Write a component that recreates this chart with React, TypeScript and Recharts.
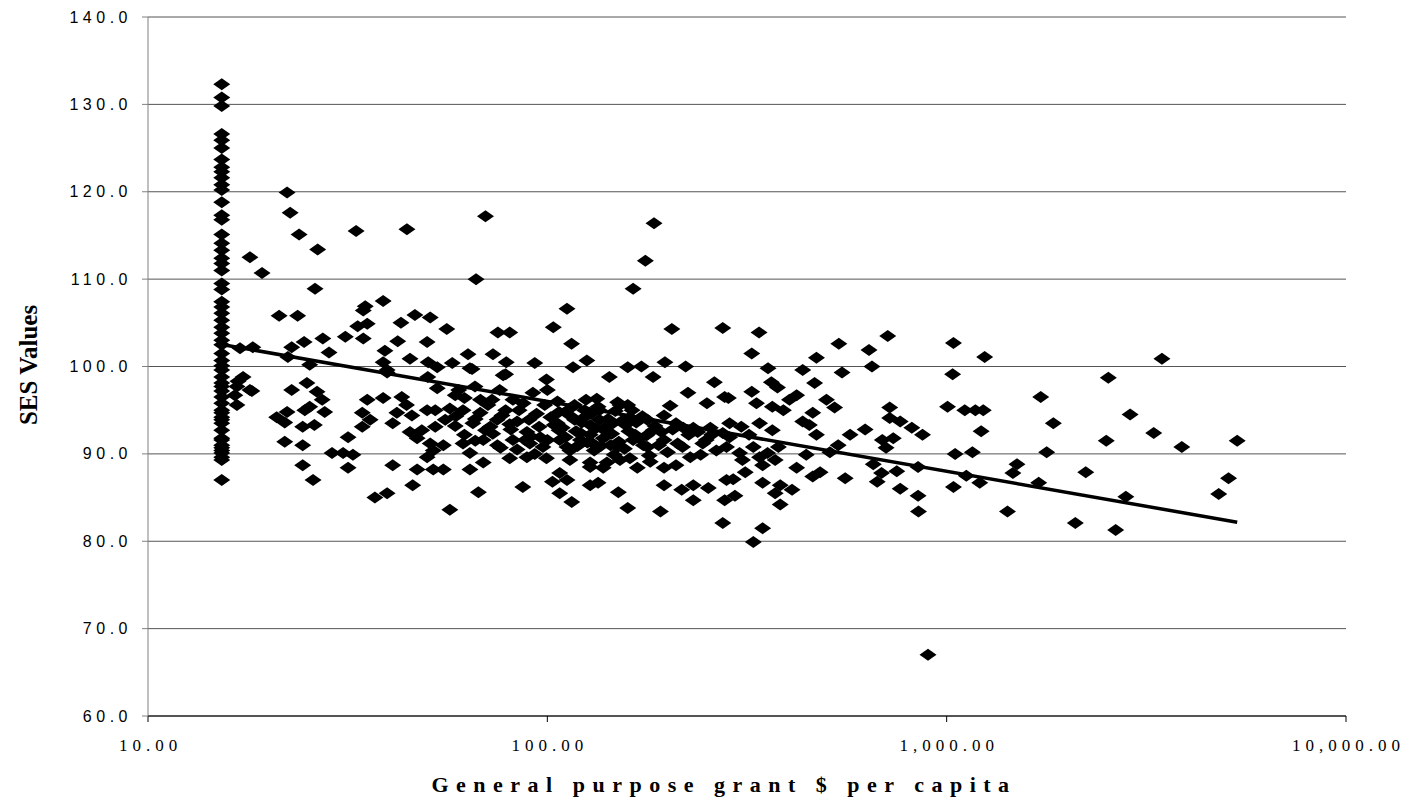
import React from "react";
import { ScatterChart, Scatter, XAxis, YAxis, CartesianGrid } from "recharts";

// councils sitting on the minimum grant
const minGrant = 15.3;
const minGrantSes = [
  132.3, 130.8, 129.8, 126.6, 125.9, 125.0, 123.7, 122.8, 122.3, 121.6, 120.8,
  120.2, 118.8, 117.3, 116.8, 115.1, 114.1, 113.3, 112.4, 111.8, 111.0, 109.5,
  108.8, 107.4, 106.8, 106.1, 105.3, 104.5, 103.8, 103.0, 102.5, 101.5, 100.7,
  100.1, 99.6, 98.8, 98.1, 97.7, 97.2, 96.5, 95.8, 95.0, 94.7, 94.2, 93.9, 93.5,
  92.7, 91.8, 91.6, 91.0, 90.7, 90.4, 90.1, 89.6, 89.3, 87.0,
];

// [grant $ per capita, SES value]
const lowGrantPoints: [number, number][] = [
  [16.8, 98.3], [17.0, 102.1], [18.3, 102.2], [17.3, 98.8], [16.7, 97.7], [18.0, 97.3],
  [16.5, 96.7], [16.7, 95.6], [18.0, 112.5], [19.3, 110.7], [18.2, 97.2],
  [22.3, 119.9], [22.7, 117.6], [23.9, 115.1], [26.6, 113.4], [33.2, 115.5], [44.5, 115.7],
  [26.2, 108.9], [21.3, 105.8], [23.7, 105.8], [35.0, 106.9], [34.6, 106.4], [38.8, 107.5],
  [33.5, 104.6], [35.4, 104.9], [43.0, 105.0], [46.6, 105.9], [50.9, 105.6], [31.2, 103.4],
  [34.6, 103.2], [27.4, 103.2], [24.6, 102.8], [22.9, 102.2], [42.2, 102.9], [50.0, 102.8],
  [28.4, 101.6], [39.2, 101.8], [45.3, 100.9], [25.4, 100.2], [22.4, 101.1], [38.8, 100.5],
  [39.7, 99.6], [50.3, 100.5], [39.7, 99.3], [50.2, 98.8], [22.9, 97.3], [25.0, 98.1],
  [26.5, 97.1], [25.4, 95.4], [27.3, 96.2], [27.7, 94.8], [24.7, 95.0], [21.0, 94.2],
  [22.3, 94.8], [22.0, 93.6], [26.1, 93.3], [24.4, 93.1], [35.4, 96.2], [38.8, 96.4],
  [43.2, 96.5], [44.4, 95.6], [42.0, 94.7], [45.8, 94.4], [50.0, 95.0], [34.4, 94.7],
  [36.0, 93.9], [34.4, 93.1], [31.7, 91.9], [41.0, 93.5], [45.3, 92.5], [48.5, 92.7],
  [47.2, 91.8], [50.9, 91.2], [22.0, 91.4], [24.4, 91.0], [28.9, 90.1], [30.8, 90.1],
  [32.6, 89.9], [24.4, 88.7], [31.7, 88.4], [41.0, 88.7], [47.2, 88.2], [50.0, 89.6],
  [51.8, 90.4], [25.9, 87.0], [37.0, 85.0], [39.7, 85.5], [46.0, 86.4], [51.8, 88.2],
];

const midGrantPoints: [number, number][] = [
  [56.0, 104.3], [75.2, 103.9], [80.5, 103.9], [103.5, 104.5], [115, 102.6], [205, 104.3],
  [63.3, 101.4], [73.1, 101.4], [93, 100.4], [78.9, 100.5], [125.6, 100.7], [116, 99.9],
  [159, 99.9], [172, 100.0], [197, 100.5], [222, 100.0], [53, 99.9], [57.8, 100.4],
  [64, 99.8], [77.5, 99.0], [143, 98.8], [184, 98.8], [112, 106.6], [70.0, 117.2],
  [66.3, 110.0], [185, 116.4], [176, 112.1], [164, 108.9], [275, 104.4], [64.8, 99.7],
  [78.6, 99.1], [99.5, 98.5], [262, 98.2], [225, 97.0], [251, 95.8], [278, 96.5],
  [203, 95.5], [150, 95.9], [159, 95.6], [133, 96.3], [53.0, 97.5], [58.8, 96.7],
  [65.9, 97.7], [72.7, 96.2], [82.0, 96.2], [92.0, 97.0], [100, 97.3],
  [52.4, 95.0], [57.0, 95.2], [61.5, 95.0], [67.9, 94.7], [74.9, 93.9], [65.1, 93.5],
  [52.4, 93.1], [58.8, 93.2], [71.9, 93.1], [80.5, 93.4], [88.9, 92.5], [95.4, 93.1],
  [105.9, 93.5], [113.9, 94.4], [123, 94.1], [135, 95.0], [146, 93.5], [161, 94.2],
  [178, 93.9], [196, 94.4], [210, 93.5], [232, 93.0], [256, 93.0], [275, 92.4],
  [54.9, 91.0], [61.5, 91.2], [69.1, 91.6], [76.3, 90.7], [82.0, 91.6], [90.4, 91.2],
  [97.5, 90.8], [107.4, 91.6], [113.9, 90.4], [121, 92.4], [130, 91.2], [138, 91.8],
  [150, 90.8], [164, 91.6], [178, 90.8], [196, 91.6], [218, 90.8], [245, 91.2], [265, 90.4],
  [64.0, 90.1], [80.5, 89.5], [88.9, 89.6], [99.5, 89.5], [113.9, 89.3], [128, 89.0],
  [141, 89.0], [161, 89.5], [181, 89.1], [196, 88.4], [210, 88.7], [228, 89.6],
  [54.9, 88.2], [64.0, 88.2], [69.1, 89.0], [107.4, 87.8], [112, 87.0], [128, 88.5],
  [138, 88.4], [168, 88.4], [103, 86.8], [128, 86.4], [134, 86.7], [196, 86.4],
  [217, 85.9], [232, 86.4], [253, 86.1], [281, 87.0], [86.8, 86.2], [67.2, 85.6],
  [107.4, 85.5], [115.1, 84.5], [150.6, 85.6], [232, 84.7], [278, 84.7], [57.0, 83.6],
  [159, 83.8], [192, 83.4], [275, 82.1],
  [98.5, 95.6], [107, 94.8], [117, 95.6], [128, 93.3], [139, 92.7], [152, 95.6],
  [166, 92.2], [107, 92.7], [121, 91.6], [131, 90.4], [147, 89.9], [100, 91.6],
  [112, 90.8], [124, 95.0], [135, 93.9], [157, 93.3], [174, 91.0], [184, 92.7],
  [117, 93.9], [104, 93.3], [144, 91.0], [152, 89.3], [128, 92.2], [60, 97.3],
  [68, 96.2], [76, 97.3], [85, 95.0], [55.5, 93.9], [62, 92.2], [70, 92.7],
  [78.6, 95.0], [88, 91.6], [90, 93.9],
];

// the thick core of the cloud between $55 and $260
const denseCorePoints: [number, number][] = [
  [102, 94.2], [106, 96.0], [109, 93.0], [111, 91.9], [114, 95.2], [118, 92.6],
  [119, 90.9], [122, 93.6], [125, 96.2], [126, 91.3], [129, 94.6], [132, 92.9],
  [134, 95.4], [136, 90.9], [140, 93.1], [142, 94.0], [145, 92.3], [148, 94.9],
  [151, 91.4], [154, 93.8], [156, 90.6], [160, 92.6], [163, 95.0], [167, 93.6],
  [170, 91.8], [173, 94.3], [177, 92.1], [180, 89.8], [186, 93.2], [190, 91.0],
  [193, 92.5], [200, 90.2], [206, 92.8], [212, 91.2], [219, 93.0], [226, 92.2],
  [238, 92.5], [242, 89.9], [250, 91.6], [258, 92.2],
  [59, 94.3], [62, 96.4], [66, 94.0], [71, 95.6], [73, 92.3], [77, 94.4],
  [81, 92.8], [84, 93.7], [87, 95.8], [91, 92.0], [94, 94.6], [96, 91.9],
  [66, 91.5], [75, 91.0], [84, 90.5], [93, 90.0],
];

const highGrantPoints: [number, number][] = [
  [339, 103.9], [325, 101.5], [357, 99.8], [436, 99.6], [472, 101.0], [537, 102.6],
  [639, 101.9], [712, 103.5], [650, 100.0], [547, 99.3], [1040, 102.7], [1035, 99.1],
  [1245, 101.1], [364, 98.2], [377, 97.6], [467, 98.1], [284, 96.4], [325, 97.1],
  [334, 95.8], [366, 95.4], [390, 95.0], [421, 96.7], [404, 96.2], [500, 96.2],
  [524, 95.3], [462, 94.7], [436, 93.7], [453, 93.3], [472, 92.2], [573, 92.2],
  [625, 92.8], [720, 95.3], [720, 94.1], [765, 93.7], [818, 93.0], [870, 92.2],
  [690, 91.6], [735, 91.8], [705, 90.7], [1005, 95.4], [1110, 95.0], [1180, 95.0],
  [1235, 95.0], [1220, 92.6], [1050, 90.0], [1160, 90.2], [848, 88.5], [1120, 87.5],
  [1210, 86.7], [1040, 86.2], [848, 85.2], [850, 83.4], [1420, 83.4], [1465, 87.8],
  [1500, 88.8], [655, 88.8], [687, 87.8], [670, 86.8], [750, 88.0], [765, 86.0],
  [557, 87.2], [482, 87.9], [462, 87.4], [421, 88.4], [445, 89.9], [510, 90.2],
  [535, 91.0], [410, 85.9], [383, 86.4], [372, 85.5], [383, 84.2], [346, 86.7],
  [295, 85.2], [292, 87.1], [313, 87.9], [346, 88.7], [372, 89.3], [346, 81.5],
  [328, 79.9], [281, 90.8], [303, 90.1], [328, 90.8], [356, 90.1], [379, 90.8],
  [286, 93.5], [306, 93.1], [340, 93.5], [366, 92.7], [320, 92.2], [286, 91.9],
  [308, 89.3], [340, 89.6], [898, 67.0],
  [3460, 100.9], [2540, 98.7], [1720, 96.5], [1850, 93.5], [2880, 94.5], [2510, 91.5],
  [3300, 92.4], [3880, 90.8], [5340, 91.5], [1780, 90.2], [2230, 87.9], [1700, 86.7],
  [2810, 85.1], [5080, 87.2], [4800, 85.4], [2100, 82.1], [2650, 81.3],
];

const xTicks = [10, 100, 1000, 10000];
const yTicks = [60, 70, 80, 90, 100, 110, 120, 130, 140];

// logarithmic trendline: y = a + b * log10(x)
const trendIntercept = 112.0;
const trendSlope = -8.0;

const points = [
  ...minGrantSes.map((y) => ({ x: minGrant, y })),
  ...[...lowGrantPoints, ...midGrantPoints, ...denseCorePoints, ...highGrantPoints].map(
    ([x, y]) => ({ x, y })
  ),
];

const xs = points.map((p) => p.x);
const trendData = [Math.min(...xs), Math.max(...xs)].map((x) => ({
  x,
  y: trendIntercept + trendSlope * Math.log10(x),
}));

const sans = "'Liberation Sans', Arial, sans-serif";
const serif = "'Liberation Serif', 'Times New Roman', serif";

const Diamond = (props: any) => {
  const { cx, cy } = props;
  if (cx == null || cy == null) return <g />;
  return (
    <polygon
      points={`${cx},${cy - 6} ${cx + 8.5},${cy} ${cx},${cy + 6} ${cx - 8.5},${cy}`}
      fill="#000"
    />
  );
};

const YTick = (props: any) => {
  const { x, y, payload } = props;
  return (
    <text x={x} y={y} dy={5.5} textAnchor="end" fontFamily={sans} fontSize={16} letterSpacing={4.5} fill="#000">
      {Number(payload.value).toFixed(1)}
    </text>
  );
};

const XTick = (props: any) => {
  const { x, y, payload } = props;
  const label = Number(payload.value).toLocaleString("en-US", {
    minimumFractionDigits: 2,
    maximumFractionDigits: 2,
  });
  return (
    <text x={x + 2.5} y={y} dy={27} textAnchor="middle" fontFamily={serif} fontSize={17} letterSpacing={5} fill="#000">
      {label}
    </text>
  );
};

export default function App() {
  return (
    <>
      <style>{`.recharts-surface { overflow: visible; }`}</style>
      <ScatterChart width={1395} height={790} margin={{ top: 9, right: 57, bottom: 0, left: 0 }}>
        <CartesianGrid vertical={false} stroke="#555" />
        <XAxis
          type="number"
          dataKey="x"
          scale="log"
          domain={[10, 10000]}
          ticks={xTicks}
          allowDataOverflow
          height={82}
          stroke="#000"
          tickSize={6}
          tickMargin={2}
          tick={<XTick />}
          label={{
            content: () => (
              <text x={716} y={784} textAnchor="middle" fontFamily={serif} fontWeight="bold" fontSize={22} letterSpacing={7.5} fill="#000">
                General purpose grant $ per capita
              </text>
            ),
          }}
        />
        <YAxis
          type="number"
          dataKey="y"
          domain={[60, 140]}
          ticks={yTicks}
          width={140}
          stroke="#808080"
          tickSize={6}
          tickMargin={10}
          tick={<YTick />}
          label={{
            content: () => (
              <text x={29} y={357} transform="rotate(-90 29 357)" textAnchor="middle" fontFamily={serif} fontWeight="bold" fontSize={25} fill="#000">
                SES Values
              </text>
            ),
          }}
        />
        <Scatter data={points} shape={<Diamond />} isAnimationActive={false} />
        <Scatter
          data={trendData}
          line={{ stroke: "#000", strokeWidth: 3.5 }}
          lineType="joint"
          shape={() => <g />}
          isAnimationActive={false}
        />
      </ScatterChart>
    </>
  );
}
